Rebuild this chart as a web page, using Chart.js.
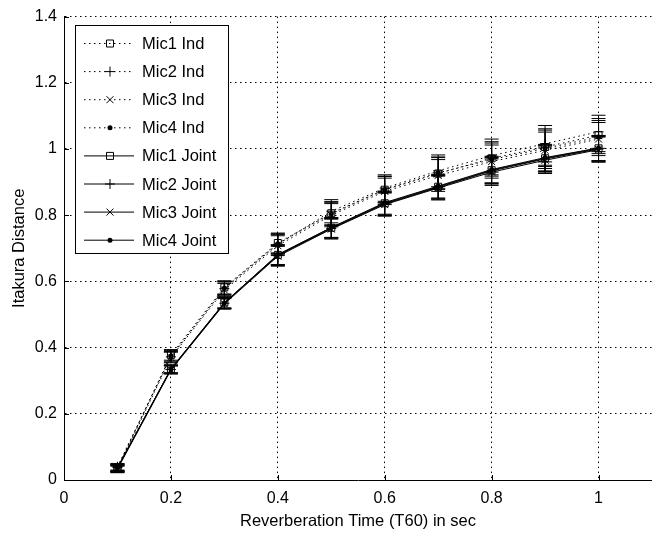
<!DOCTYPE html>
<html>
<head>
<meta charset="utf-8">
<script src="https://cdn.jsdelivr.net/npm/chart.js@4"></script>
<style>
  html, body { margin: 0; padding: 0; background: #fff; }
  #wrap { width: 652px; height: 535px; }
</style>
</head>
<body>
<div id="wrap"><canvas id="chart" width="652" height="535"></canvas></div>
<script>
// reverberation time (s)
var t60 = [0.1, 0.2, 0.3, 0.4, 0.5, 0.6, 0.7, 0.8, 0.9, 1.0];

// independent estimates
var mic1Ind = [0.035, 0.378, 0.582, 0.716, 0.806, 0.877, 0.926, 0.972, 1.006, 1.042];
var mic2Ind = [0.040, 0.372, 0.578, 0.712, 0.812, 0.882, 0.934, 0.980, 1.016, 1.052];
var mic3Ind = [0.032, 0.370, 0.574, 0.708, 0.800, 0.872, 0.920, 0.962, 0.996, 1.030];
var mic4Ind = [0.038, 0.375, 0.580, 0.714, 0.804, 0.878, 0.928, 0.968, 1.002, 1.036];

// joint estimates
var mic1Joint = [0.035, 0.336, 0.536, 0.680, 0.762, 0.836, 0.886, 0.936, 0.972, 1.002];
var mic2Joint = [0.038, 0.334, 0.534, 0.678, 0.760, 0.834, 0.884, 0.934, 0.970, 1.000];
var mic3Joint = [0.033, 0.332, 0.532, 0.676, 0.758, 0.832, 0.882, 0.930, 0.966, 0.998];
var mic4Joint = [0.036, 0.335, 0.535, 0.681, 0.763, 0.838, 0.888, 0.938, 0.974, 1.003];

// error bar half-lengths
var indErr = [0.010, 0.016, 0.020, 0.030, 0.035, 0.040, 0.048, 0.050, 0.055, 0.050];
var jointErr = [0.010, 0.012, 0.016, 0.030, 0.030, 0.035, 0.036, 0.040, 0.040, 0.038];

var xTicks = [0, 0.2, 0.4, 0.6, 0.8, 1];
var yTicks = [0, 0.2, 0.4, 0.6, 0.8, 1, 1.2, 1.4];

var FONT = '"Liberation Sans", Arial, sans-serif';
var DOTS = [1.5, 3.5];

function pts(ys) {
    return t60.map(function (x, i) { return { x: x, y: ys[i] }; });
}

function series(label, ys, err, marker, dotted) {
    return {
        label: label,
        data: pts(ys),
        errors: err,
        marker: marker,
        borderColor: '#000',
        borderWidth: 1,
        borderDash: dotted ? DOTS : [],
        pointRadius: 0,
        pointHoverRadius: 0,
        fill: false,
        tension: 0
    };
}

// "1" rather than "1.0", like the axis labels
function tickText(v) {
    return String(+v.toFixed(1));
}

// markers drawn by hand so the legend can reuse them
function drawMarker(ctx, kind, x, y) {
    ctx.save();
    ctx.strokeStyle = '#000';
    ctx.fillStyle = '#000';
    ctx.lineWidth = 1;
    ctx.setLineDash([]);
    ctx.beginPath();
    if (kind === 'square') {
        ctx.rect(x - 3.5, y - 3.5, 7, 7);
        ctx.stroke();
    } else if (kind === 'plus') {
        ctx.moveTo(x - 5, y); ctx.lineTo(x + 5, y);
        ctx.moveTo(x, y - 5); ctx.lineTo(x, y + 5);
        ctx.stroke();
    } else if (kind === 'x') {
        ctx.moveTo(x - 3.5, y - 3.5); ctx.lineTo(x + 3.5, y + 3.5);
        ctx.moveTo(x - 3.5, y + 3.5); ctx.lineTo(x + 3.5, y - 3.5);
        ctx.stroke();
    } else if (kind === 'dot') {
        ctx.arc(x, y, 2.5, 0, Math.PI * 2);
        ctx.fill();
    }
    ctx.restore();
}

var errorBars = {
    id: 'errorBars',
    afterDatasetsDraw: function (chart) {
        var ctx = chart.ctx;
        var xs = chart.scales.x, ys = chart.scales.y;
        chart.data.datasets.forEach(function (ds) {
            ds.data.forEach(function (p, i) {
                var px = xs.getPixelForValue(p.x);
                var top = ys.getPixelForValue(p.y + ds.errors[i]);
                var bot = ys.getPixelForValue(p.y - ds.errors[i]);
                ctx.save();
                ctx.strokeStyle = '#000';
                ctx.lineWidth = 1;
                ctx.beginPath();
                ctx.moveTo(px, top); ctx.lineTo(px, bot);
                ctx.moveTo(px - 7, top); ctx.lineTo(px + 7, top);
                ctx.moveTo(px - 7, bot); ctx.lineTo(px + 7, bot);
                ctx.stroke();
                ctx.restore();
                drawMarker(ctx, ds.marker, px, ys.getPixelForValue(p.y));
            });
        });
    }
};

var innerTicks = {
    id: 'innerTicks',
    afterDraw: function (chart) {
        var ctx = chart.ctx, a = chart.chartArea;
        var xs = chart.scales.x, ys = chart.scales.y;
        ctx.save();
        ctx.strokeStyle = '#000';
        ctx.lineWidth = 1;
        ctx.beginPath();
        xTicks.forEach(function (v) {
            var px = Math.round(xs.getPixelForValue(v)) + 0.5;
            ctx.moveTo(px, a.bottom); ctx.lineTo(px, a.bottom - 5);
        });
        yTicks.forEach(function (v) {
            var py = Math.round(ys.getPixelForValue(v)) + 0.5;
            ctx.moveTo(a.left, py); ctx.lineTo(a.left + 5, py);
        });
        ctx.stroke();
        ctx.restore();
    }
};

var boxLegend = {
    id: 'boxLegend',
    afterDraw: function (chart) {
        var ctx = chart.ctx;
        var left = 75, top = 25, w = 153, h = 228;
        ctx.save();
        ctx.fillStyle = '#fff';
        ctx.fillRect(left, top, w, h);
        ctx.strokeStyle = '#000';
        ctx.lineWidth = 1;
        ctx.strokeRect(left + 0.5, top + 0.5, w, h);
        ctx.font = '16.5px ' + FONT;
        ctx.textBaseline = 'middle';
        ctx.fillStyle = '#000';
        chart.data.datasets.forEach(function (ds, i) {
            var y = top + 18.5 + i * 28.1;
            ctx.save();
            ctx.lineWidth = 1;
            ctx.setLineDash(ds.borderDash);
            ctx.beginPath();
            ctx.moveTo(84, y); ctx.lineTo(134, y);
            ctx.stroke();
            ctx.restore();
            drawMarker(ctx, ds.marker, 110, y);
            ctx.fillText(ds.label, 142, y + 1);
        });
        ctx.restore();
    }
};

var gridLine = { color: '#000', lineWidth: 1, drawTicks: false };

new Chart(document.getElementById('chart'), {
    type: 'line',
    data: {
        datasets: [
            series('Mic1 Ind', mic1Ind, indErr, 'square', true),
            series('Mic2 Ind', mic2Ind, indErr, 'plus', true),
            series('Mic3 Ind', mic3Ind, indErr, 'x', true),
            series('Mic4 Ind', mic4Ind, indErr, 'dot', true),
            series('Mic1 Joint', mic1Joint, jointErr, 'square', false),
            series('Mic2 Joint', mic2Joint, jointErr, 'plus', false),
            series('Mic3 Joint', mic3Joint, jointErr, 'x', false),
            series('Mic4 Joint', mic4Joint, jointErr, 'dot', false)
        ]
    },
    options: {
        responsive: false,
        animation: false,
        layout: { padding: { top: 15, right: 0, left: 0, bottom: 0 } },
        plugins: { legend: { display: false }, tooltip: { enabled: false } },
        scales: {
            x: {
                type: 'linear',
                min: 0,
                max: 1.1,
                afterBuildTicks: function (s) { s.ticks = xTicks.map(function (v) { return { value: v }; }); },
                afterFit: function (s) { s.height = 55; },
                grid: gridLine,
                border: { display: true, color: '#000', width: 1, dash: DOTS },
                ticks: { color: '#000', padding: 9, maxRotation: 0, callback: tickText, font: { family: FONT, size: 16 } },
                title: {
                    display: true,
                    text: 'Reverberation Time (T60) in sec',
                    color: '#000',
                    font: { family: FONT, size: 16.5 },
                    padding: { top: 2, bottom: 4 }
                }
            },
            y: {
                min: 0,
                max: 1.4,
                afterBuildTicks: function (s) { s.ticks = yTicks.map(function (v) { return { value: v }; }); },
                afterFit: function (s) { s.width = 64; },
                grid: gridLine,
                border: { display: true, color: '#000', width: 1, dash: DOTS },
                ticks: { color: '#000', padding: 7, callback: tickText, font: { family: FONT, size: 16 } },
                title: {
                    display: true,
                    text: 'Itakura Distance',
                    color: '#000',
                    font: { family: FONT, size: 16.5 },
                    padding: { top: 10, bottom: 2 }
                }
            }
        }
    },
    plugins: [errorBars, innerTicks, boxLegend]
});
</script>
</body>
</html>
